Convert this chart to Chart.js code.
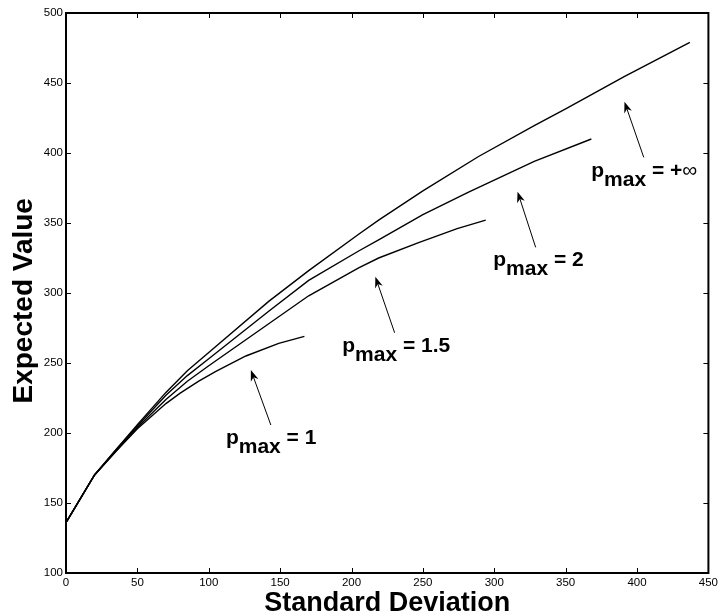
<!DOCTYPE html>
<html><head><meta charset="utf-8">
<script src="https://cdn.jsdelivr.net/npm/chart.js@4/dist/chart.umd.min.js"></script>
<style>html,body{margin:0;padding:0;background:#fff;}#wrap{width:721px;height:616px;position:relative;}</style>
</head><body><div id="wrap"><canvas id="c"></canvas></div>
<script>
// ---- data ----
const xTicks = [0, 50, 100, 150, 200, 250, 300, 350, 400, 450];
const yTicks = [100, 150, 200, 250, 300, 350, 400, 450, 500];

const sdInf = [0, 20, 35, 50, 70, 85, 100, 142, 170, 205, 219, 250, 289, 328, 350, 391, 437];
const evInf = [136, 170, 188, 206, 229, 244.5, 257.5, 294, 316, 342, 352, 373, 397.5, 419.5, 431.5, 454.5, 479];
const sd2 = [0, 20, 35, 50, 70, 85, 100, 142, 170, 205, 219, 250, 282, 328, 368];
const ev2 = [136, 170, 188, 205, 227, 241, 253, 287, 309, 330, 338, 356, 372, 394, 410];
const sd15 = [0, 20, 35, 50, 70, 85, 100, 142, 170, 205, 219, 247, 274, 294];
const ev15 = [136, 170, 187, 204, 224, 237, 248, 278, 298, 318, 325, 336, 346, 352];
const sd1 = [0, 20, 35, 50, 70, 80, 93, 105, 126, 149, 167];
const ev1 = [136, 170, 187, 203, 221, 228.5, 237, 244, 255, 264, 269];

const labelValues = ['1', '1.5', '2', '+\u221E'];
const labelX = [112, 193.5, 299.3, 367.9];
const labelY = [192.5, 258, 319.3, 383];
const arrowTailX = [143.5, 230.2, 329, 404.7];
const arrowTailY = [205.7, 271.6, 332.6, 396.9];
const arrowHeadX = [129.5, 216.7, 316.3, 391.2];
const arrowHeadY = [245, 311.6, 372.4, 436.6];

const FONT = '"Liberation Sans", Arial, Helvetica, sans-serif';

function pts(xs, ys) { return xs.map((v, i) => ({x: v, y: ys[i]})); }
function ds(xs, ys) {
  return {data: pts(xs, ys), borderColor: '#000', borderWidth: 1.4, pointRadius: 0,
          tension: 0, fill: false, clip: false};
}

const overlay = {
  id: 'overlay',
  afterDatasetsDraw(chart) {
    const {ctx, chartArea: a, scales: {x, y}} = chart;
    ctx.save();
    ctx.strokeStyle = '#000';
    ctx.fillStyle = '#000';
    ctx.lineWidth = 1;
    // inward ticks on all four sides
    xTicks.forEach(v => {
      const px = Math.round(x.getPixelForValue(v)) + 0.5;
      ctx.beginPath();
      ctx.moveTo(px, a.bottom); ctx.lineTo(px, a.bottom - 5);
      ctx.moveTo(px, a.top); ctx.lineTo(px, a.top + 5);
      ctx.stroke();
    });
    yTicks.forEach(v => {
      const py = Math.round(y.getPixelForValue(v)) + 0.5;
      ctx.beginPath();
      ctx.moveTo(a.left, py); ctx.lineTo(a.left + 5, py);
      ctx.moveTo(a.right, py); ctx.lineTo(a.right - 5, py);
      ctx.stroke();
    });
    // box
    ctx.lineWidth = 2;
    ctx.strokeRect(a.left, a.top, a.right - a.left, a.bottom - a.top);

    // arrows
    ctx.lineWidth = 1;
    for (let i = 0; i < arrowHeadX.length; i++) {
      const hx = x.getPixelForValue(arrowHeadX[i]), hy = y.getPixelForValue(arrowHeadY[i]);
      const tx = x.getPixelForValue(arrowTailX[i]), ty = y.getPixelForValue(arrowTailY[i]);
      const dx = hx - tx, dy = hy - ty, len = Math.hypot(dx, dy);
      const ux = dx / len, uy = dy / len, nx = -uy, ny = ux;
      const L = 11, W = 4;
      const bx = hx - ux * L, by = hy - uy * L;
      const kx = hx - ux * L * 0.7, ky = hy - uy * L * 0.7;
      ctx.beginPath(); ctx.moveTo(tx, ty); ctx.lineTo(kx, ky); ctx.stroke();
      ctx.beginPath();
      ctx.moveTo(hx, hy);
      ctx.lineTo(bx + nx * W, by + ny * W);
      ctx.lineTo(kx, ky);
      ctx.lineTo(bx - nx * W, by - ny * W);
      ctx.closePath();
      ctx.fill();
    }

    // labels
    ctx.textBaseline = 'alphabetic';
    ctx.textAlign = 'left';
    const main = 'bold 21px ' + FONT;
    for (let i = 0; i < labelValues.length; i++) {
      let lx = x.getPixelForValue(labelX[i]);
      const ly = y.getPixelForValue(labelY[i]);
      ctx.font = main;
      ctx.fillText('p', lx, ly); lx += ctx.measureText('p').width;
      ctx.fillText('max', lx, ly + 9); lx += ctx.measureText('max').width;
      const val = labelValues[i];
      if (val.indexOf('\u221E') >= 0) {
        const pre = ' = +';
        ctx.fillText(pre, lx, ly); lx += ctx.measureText(pre).width;
        ctx.font = '21px ' + FONT;
        ctx.fillText('\u221E', lx, ly);
      } else {
        ctx.fillText(' = ' + val, lx, ly);
      }
    }
    ctx.restore();
  }
};

new Chart(document.getElementById('c'), {
  type: 'line',
  data: {datasets: [ds(sdInf, evInf), ds(sd2, ev2), ds(sd15, ev15), ds(sd1, ev1)]},
  options: {
    responsive: true, maintainAspectRatio: false, animation: false,
    layout: {padding: {top: 13, right: 10, left: 0, bottom: 0}},
    plugins: {legend: {display: false}, tooltip: {enabled: false}},
    scales: {
      x: {
        type: 'linear', min: 0, max: 450,
        afterBuildTicks: s => { s.ticks = xTicks.map(v => ({value: v})); },
        afterFit: s => { s.height = 43; },
        grid: {display: false, drawTicks: false},
        border: {display: false},
        ticks: {color: '#000', padding: 3, maxRotation: 0, autoSkip: false,
                font: {family: FONT, size: 11.5}},
        title: {display: true, text: 'Standard Deviation', color: '#000',
                font: {family: FONT, size: 27, weight: 'bold', lineHeight: 0.9},
                padding: {top: 0, bottom: 0}}
      },
      y: {
        type: 'linear', min: 100, max: 500,
        afterBuildTicks: s => { s.ticks = yTicks.map(v => ({value: v})); },
        afterFit: s => { s.width = 66; },
        grid: {display: false, drawTicks: false},
        border: {display: false},
        ticks: {color: '#000', padding: 3, autoSkip: false,
                font: {family: FONT, size: 11.5}},
        title: {display: true, text: 'Expected Value  ', color: '#000',
                font: {family: FONT, size: 28, weight: 'bold'},
                padding: {top: 7, bottom: 0}}
      }
    }
  },
  plugins: [overlay]
});
</script></body></html>
